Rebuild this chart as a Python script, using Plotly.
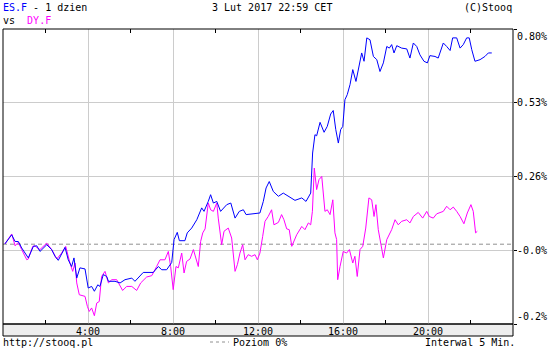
import plotly.graph_objects as go

# ---- data (hours since 0:00, percent change) ----
es_t = [0.09,0.41,0.57,0.72,0.88,1.19,1.43,1.59,1.74,2.06,2.29,2.45,2.60,2.92,3.07,3.23,3.34,3.47,3.62,3.86,
        4.01,4.17,4.30,4.46,4.56,4.72,4.88,4.96,5.27,5.51,5.74,6.06,6.21,6.45,6.60,7.07,7.31,7.47,7.70,7.94,
        8.05,8.20,8.30,8.56,8.67,8.88,9.12,9.35,9.46,9.66,9.77,9.90,10.06,10.24,10.53,10.72,10.92,11.12,11.31,11.44,
        12.09,12.25,12.38,12.53,12.72,12.96,13.19,13.74,14.06,14.26,14.48,14.57,14.68,14.76,14.92,15.11,15.26,15.42,15.54,15.66,
        15.78,15.89,15.99,16.09,16.20,16.33,16.46,16.61,16.77,16.88,16.99,17.12,17.27,17.35,17.43,17.59,17.74,17.90,18.06,18.18,
        18.29,18.40,18.53,18.76,19.00,19.15,19.31,19.47,19.62,19.81,19.97,20.09,20.33,20.48,20.72,20.88,21.04,21.16,21.35,21.51,
        21.66,21.82,21.94,22.06,22.21,22.45,22.68,22.84,23.00]
es_v = [0.001,0.035,0.010,0.010,-0.014,-0.051,-0.008,-0.006,-0.027,-0.002,-0.020,-0.045,-0.060,-0.012,-0.058,-0.083,-0.051,-0.126,-0.088,-0.092,
        -0.163,-0.157,-0.175,-0.151,-0.157,-0.113,-0.120,-0.138,-0.138,-0.144,-0.132,-0.126,-0.138,-0.120,-0.105,-0.105,-0.083,-0.095,-0.095,-0.068,
        0.017,0.044,0.013,0.013,0.042,0.060,0.091,0.135,0.122,0.159,0.184,0.153,0.159,0.122,0.147,0.153,0.097,0.122,0.128,0.110,
        0.116,0.159,0.209,0.233,0.196,0.178,0.190,0.163,0.172,0.159,0.190,0.339,0.407,0.403,0.453,0.416,0.438,0.484,0.497,0.426,
        0.376,0.426,0.438,0.537,0.556,0.593,0.649,0.605,0.674,0.711,0.680,0.767,0.760,0.723,0.698,0.686,0.642,0.674,0.735,0.729,
        0.742,0.711,0.738,0.729,0.726,0.692,0.748,0.735,0.704,0.680,0.674,0.701,0.698,0.692,0.748,0.735,0.720,0.767,0.767,0.729,
        0.742,0.767,0.767,0.723,0.680,0.686,0.698,0.711,0.711]

dy_t = [0.09,0.41,0.57,0.72,0.88,1.12,1.19,1.40,1.51,1.61,1.74,2.06,2.29,2.53,2.76,2.95,3.15,3.28,3.39,3.47,
        3.59,3.86,3.97,4.06,4.17,4.30,4.41,4.53,4.64,4.80,4.96,5.12,5.35,5.63,5.82,6.06,6.29,6.48,6.76,7.00,
        7.23,7.39,7.62,7.78,7.89,8.01,8.14,8.25,8.41,8.52,8.64,8.80,8.96,9.08,9.19,9.30,9.40,9.51,9.66,9.77,
        9.90,10.06,10.13,10.29,10.40,10.60,10.76,10.92,11.03,11.15,11.28,11.39,11.54,11.70,11.86,11.97,12.09,12.22,12.33,12.48,
        12.64,12.75,12.96,13.11,13.22,13.35,13.47,13.59,13.82,14.06,14.21,14.37,14.48,14.56,14.65,14.76,14.87,15.00,15.07,15.15,
        15.26,15.39,15.52,15.62,15.70,15.75,15.86,16.01,16.17,16.30,16.46,16.56,16.67,16.80,16.93,17.07,17.22,17.35,17.46,17.55,
        17.66,17.79,17.90,18.06,18.29,18.45,18.60,18.76,19.00,19.15,19.31,19.54,19.75,19.94,20.06,20.25,20.41,20.72,20.88,21.04,
        21.19,21.35,21.51,21.69,21.85,22.02,22.13,22.24,22.32]
dy_v = [0.001,0.038,-0.006,0.007,-0.020,-0.058,-0.055,-0.008,-0.006,-0.014,-0.020,0.004,-0.020,-0.055,-0.033,-0.008,-0.070,-0.101,-0.070,-0.144,
        -0.188,-0.194,-0.231,-0.250,-0.237,-0.266,-0.219,-0.213,-0.120,-0.101,-0.144,-0.132,-0.132,-0.172,-0.157,-0.157,-0.172,-0.144,-0.122,-0.117,
        -0.083,-0.058,-0.058,-0.027,-0.083,-0.169,-0.083,-0.088,-0.033,-0.107,-0.064,-0.055,-0.020,-0.051,-0.083,0.010,0.042,0.057,0.153,0.128,
        0.122,0.153,0.097,-0.002,0.048,0.060,0.023,-0.101,-0.076,-0.033,-0.002,-0.058,-0.039,-0.045,-0.039,-0.058,-0.033,0.029,0.085,0.103,
        0.128,0.072,0.081,0.110,0.091,0.057,0.054,-0.008,0.035,0.066,0.054,0.079,0.072,0.122,0.283,0.203,0.240,0.252,0.190,0.122,
        0.128,0.110,0.165,0.042,0.017,-0.132,-0.083,-0.027,-0.033,-0.020,-0.070,-0.045,-0.120,-0.020,-0.008,0.060,0.172,0.165,0.103,0.147,
        0.054,-0.008,-0.051,0.017,0.054,0.091,0.072,0.085,0.091,0.079,0.103,0.118,0.097,0.122,0.103,0.097,0.113,0.122,0.141,0.128,
        0.138,0.122,0.103,0.076,0.116,0.147,0.122,0.042,0.048]

x_tick_vals = [4, 8, 12, 16, 20]
x_tick_text = ["4:00", "8:00", "12:00", "16:00", "20:00"]
x_minor_vals = [2, 6, 10, 14, 18, 22]
y_tick_text = ["0.80%", "0.53%", "0.26%", "-0.0%", "-0.2%"]
y_top, y_bottom = 0.80, -0.2967
x_range = [0, 24]

# ---- geometry ----
W, H = 550, 354
L, R, T, B = 3, 513, 29, 324
pw, ph = R - L, B - T

def px(x):
    return (x - L) / pw

def py(y):
    return (B - y) / ph

MONO = "DejaVu Sans Mono"
BLUE, MAG = "#0000ff", "#ff00ff"

fig = go.Figure()
fig.add_trace(go.Scatter(x=dy_t, y=dy_v, mode="lines", line=dict(color=MAG, width=1), hoverinfo="skip"))
fig.add_trace(go.Scatter(x=es_t, y=es_v, mode="lines", line=dict(color=BLUE, width=1), hoverinfo="skip"))

step = (y_top - y_bottom) / (len(y_tick_text) - 1)
y_tick_vals = [y_top - i * step for i in range(len(y_tick_text))]

fig.update_layout(
    width=W, height=H, margin=dict(l=L, r=W - R, t=T, b=H - B, pad=0),
    paper_bgcolor="white", plot_bgcolor="white", showlegend=False,
    font=dict(family=MONO, size=10, color="black"),
    xaxis=dict(range=x_range, tickvals=x_tick_vals, ticktext=x_tick_text, showgrid=True,
               gridcolor="#cccccc", gridwidth=1, zeroline=False, showline=False, ticks="",
               tickfont=dict(family=MONO, size=10, color="black"), fixedrange=True),
    yaxis=dict(range=[y_bottom, y_top], tickvals=y_tick_vals, showticklabels=False, side="right",
               ticks="outside", ticklen=3, tickcolor="black", showgrid=True, gridcolor="#cccccc",
               gridwidth=1, zeroline=False, showline=False, fixedrange=True),
)

shapes = []
# zero level dashed line
shapes.append(dict(type="line", xref="paper", yref="y", x0=0, x1=1, y0=0, y1=0,
                   line=dict(color="#909090", width=1, dash="4px,3px"), layer="below"))
# gray time strip
shapes.append(dict(type="rect", xref="paper", yref="paper", x0=0, x1=1, y0=py(336), y1=0,
                   fillcolor="#eeeeee", line=dict(color="black", width=1), layer="below"))
# plot border
shapes.append(dict(type="rect", xref="paper", yref="paper", x0=0, x1=1, y0=0, y1=1,
                   line=dict(color="black", width=1), layer="above"))
# minor ticks on top and bottom edges
for v in x_minor_vals:
    shapes.append(dict(type="line", xref="x", yref="paper", x0=v, x1=v, y0=1, y1=1 - 4 / ph,
                       line=dict(color="black", width=1)))
    shapes.append(dict(type="line", xref="x", yref="paper", x0=v, x1=v, y0=0, y1=4 / ph,
                       line=dict(color="black", width=1)))
# legend dash sample
shapes.append(dict(type="line", xref="paper", yref="paper", x0=px(210), x1=px(229), y0=py(342), y1=py(342),
                   line=dict(color="#909090", width=1, dash="3px,3px")))
fig.update_layout(shapes=shapes)

ann = []
def text(x, y, s, xanchor="left", yanchor="middle", **kw):
    ann.append(dict(xref="paper", yref="paper", x=px(x), y=py(y), text=s, showarrow=False,
                    xanchor=xanchor, yanchor=yanchor, font=dict(family=MONO, size=10, color="black"), **kw))

text(1, 7, f"<span style='color:{BLUE}'>ES.F</span> - 1 dzien")
text(1, 21, f"vs  <span style='color:{MAG}'>DY.F</span>")
text(272, 7, "3 Lut 2017 22:59 CET", xanchor="center")
text(514, 7, "(C)Stooq", xanchor="right")
text(1, 342, "http://stooq.pl")
text(231, 342, "Poziom 0%")
text(517, 342, "Interwal 5 Min.", xanchor="right")

# y labels (outer ones kept inside the plot height)
for i, (v, s) in enumerate(zip(y_tick_vals, y_tick_text)):
    if i == 0:
        ann.append(dict(xref="paper", yref="paper", x=px(515), y=1, yanchor="top", xanchor="left", text=s,
                        showarrow=False, font=dict(family=MONO, size=10, color="black")))
    elif i == len(y_tick_vals) - 1:
        ann.append(dict(xref="paper", yref="paper", x=px(515), y=0, yanchor="bottom", xanchor="left", text=s,
                        showarrow=False, font=dict(family=MONO, size=10, color="black")))
    else:
        ann.append(dict(xref="paper", yref="y", x=px(515), y=v, yanchor="middle", xanchor="left", text=s,
                        showarrow=False, font=dict(family=MONO, size=10, color="black")))
fig.update_layout(annotations=ann)

fig.write_html("out.html", config={"displayModeBar": False})
